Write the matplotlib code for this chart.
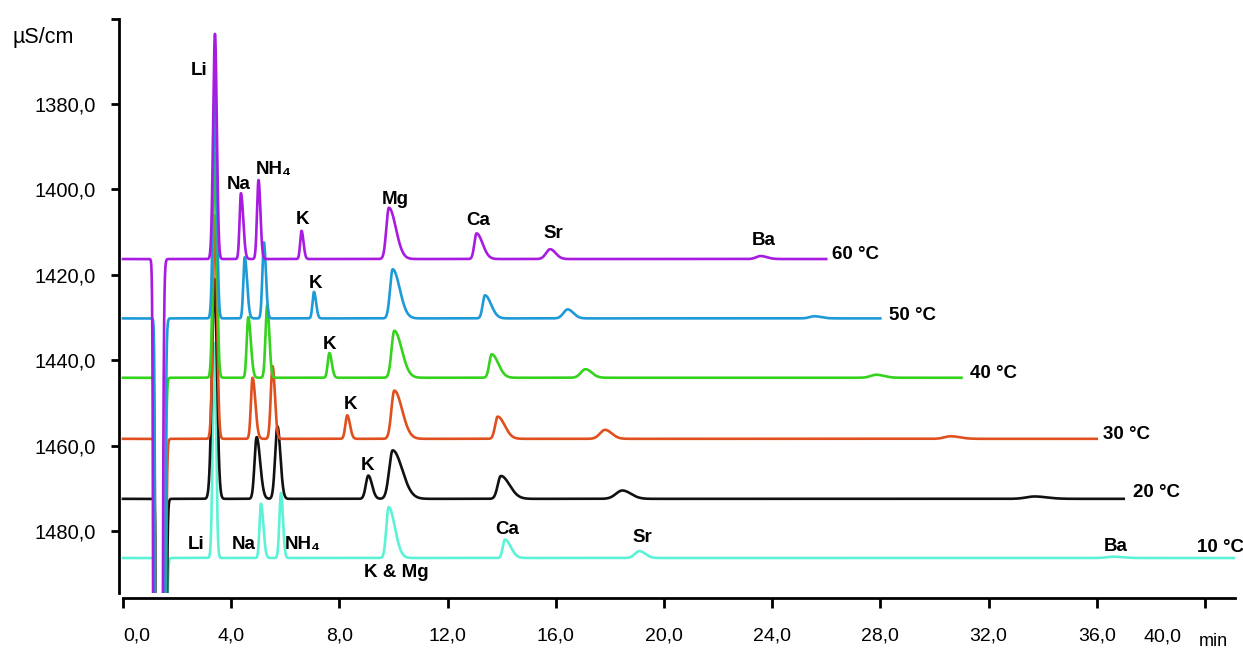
import numpy as np
import matplotlib
matplotlib.use("Agg")
import matplotlib.pyplot as plt

plt.rcParams['font.family'] = ['Liberation Sans', 'DejaVu Sans']

# ---------------- data ----------------
ions = ["Li", "Na", "NH4", "K", "Mg", "Ca", "Sr", "Ba"]
# relative peak widths (sigma / retention time), leading and tailing side
rel_sigma_left = [0.020, 0.0115, 0.011, 0.0076, 0.0097, 0.0062, 0.0095, 0.0068]
rel_sigma_right = [0.020, 0.0195, 0.014, 0.011, 0.026, 0.017, 0.0127, 0.010]

temps = ["60 °C", "50 °C", "40 °C", "30 °C", "20 °C", "10 °C"]
baseline = [1416.3, 1430.2, 1444.1, 1458.4, 1472.45, 1486.3]
run_end = [26.0, 28.0, 31.0, 36.0, 37.0, 41.1]
dip_time = [1.26, 1.34, 1.34, 1.36, 1.38, 1.38]
width_factor = [1.0, 1.0, 1.05, 1.1, 1.35, 0.9]

rt_60 = [3.40, 4.36, 5.01, 6.60, 9.83, 13.07, 15.79, 23.57]
top_60 = [1363.6, 1400.9, 1397.8, 1409.7, 1404.3, 1410.3, 1414.0, 1415.6]
rt_50 = [3.40, 4.50, 5.21, 7.06, 9.97, 13.38, 16.44, 25.56]
top_50 = [1377.0, 1415.9, 1412.4, 1424.0, 1418.7, 1424.8, 1428.1, 1429.7]
rt_40 = [3.40, 4.63, 5.33, 7.63, 10.03, 13.63, 17.10, 27.84]
top_40 = [1391.5, 1429.9, 1427.1, 1438.3, 1433.1, 1438.6, 1442.1, 1443.4]
rt_30 = [3.40, 4.79, 5.53, 8.29, 10.03, 13.85, 17.82, 30.60]
top_30 = [1406.0, 1444.1, 1441.4, 1452.9, 1447.1, 1453.2, 1456.3, 1457.8]
rt_20 = [3.38, 4.94, 5.71, 9.07, 9.97, 13.97, 18.46, 33.70]
top_20 = [1421.0, 1458.0, 1455.5, 1467.0, 1461.1, 1467.1, 1470.5, 1471.9]
rt_10 = [3.38, 5.10, 5.84, np.nan, 9.82, 14.12, 19.09, 36.60]
top_10 = [1436.0, 1473.6, 1471.1, np.nan, 1474.4, 1482.0, 1484.7, 1486.0]

retention = [rt_60, rt_50, rt_40, rt_30, rt_20, rt_10]
tops = [top_60, top_50, top_40, top_30, top_20, top_10]

x_ticks = [0, 4, 8, 12, 16, 20, 24, 28, 32, 36, 40]
x_ticklabels = ["0,0", "4,0", "8,0", "12,0", "16,0", "20,0", "24,0", "28,0", "32,0", "36,0", ""]
y_ticks = [1380, 1400, 1420, 1440, 1460, 1480]
y_ticklabels = ["1380,0", "1400,0", "1420,0", "1440,0", "1460,0", "1480,0"]

# peak annotations: text, time, value (baseline of text)
peak_labels = [
    ("Li", 2.81, 1373.2), ("Na", 4.28, 1399.8), ("NH₄", 5.57, 1396.3),
    ("K", 6.64, 1408.0), ("Mg", 10.05, 1403.3), ("Ca", 13.12, 1408.4),
    ("Sr", 15.90, 1411.3), ("Ba", 23.69, 1413.1),
    ("K", 7.10, 1423.2), ("K", 7.63, 1437.3), ("K", 8.42, 1451.4), ("K", 9.05, 1465.8),
    ("Li", 2.69, 1484.2), ("Na", 4.45, 1484.2), ("NH₄", 6.65, 1484.2),
    ("K & Mg", 10.11, 1490.7), ("Ca", 14.21, 1480.6), ("Sr", 19.20, 1482.6),
    ("Ba", 36.70, 1484.6),
]
temp_label_x = [26.2, 28.32, 31.31, 36.23, 37.33, 39.69]
temp_label_y = [1416.2, 1430.5, 1444.1, 1458.4, 1472.1, 1485.0]

colors = ["#A81BE0", "#1E9AD8", "#35D21E", "#E0501F", "#111111", "#5CF2D6"]

# ---------------- figure ----------------
W, H = 1243, 650
fig = plt.figure(figsize=(W / 100, H / 100), dpi=100)
ax = fig.add_axes([119 / W, 1 - 593 / H, (1235 - 119) / W, (593 - 19) / H])

x_left = (119 - 123) / 27.05
x_right = (1235 - 123) / 27.05
ax.set_xlim(x_left, x_right)
ax.set_ylim(1494.5, 1360.1)


def asym_gauss(t, mu, sl, sr):
    s = np.where(t < mu, sl, sr)
    return np.exp(-0.5 * ((t - mu) / s) ** 2)


order = [5, 4, 3, 2, 1, 0]
for z, i in enumerate(order):
    t = np.arange(0, run_end[i], 0.004)
    v = np.full_like(t, baseline[i])
    for k in range(len(ions)):
        mu = retention[i][k]
        if np.isnan(mu):
            continue
        h = baseline[i] - tops[i][k]
        sl = rel_sigma_left[k] * mu * width_factor[i]
        sr = rel_sigma_right[k] * mu * width_factor[i]
        v -= h * asym_gauss(t, mu, sl, sr)
    v += 3000 * asym_gauss(t, dip_time[i], 0.055, 0.08)
    ax.plot(t, v, color=colors[i], lw=1.9, zorder=2 + z, solid_joinstyle='round')

for txt, tx, ty in peak_labels:
    ax.text(tx, ty, txt, ha='center', va='baseline', fontsize=13.5,
            fontweight='bold', zorder=20)

for i, lab in enumerate(temps):
    ax.text(temp_label_x[i], temp_label_y[i], lab, ha='left', va='baseline',
            fontsize=13.5, fontweight='bold', clip_on=False, zorder=20)

# axes styling
for s in ['top', 'right']:
    ax.spines[s].set_visible(False)
ax.spines['left'].set_linewidth(2.0)
ax.spines['bottom'].set_linewidth(2.0)
ax.spines['bottom'].set_position(('outward', 3.6))
ax.spines['bottom'].set_bounds(0, x_right)

ax.set_xticks(x_ticks)
ax.set_xticklabels(x_ticklabels)
ax.set_yticks([1360.1] + y_ticks)
ax.set_yticklabels([""] + y_ticklabels)
ax.tick_params(axis='x', direction='out', length=7, width=2.0, pad=14, labelsize=14)
ax.tick_params(axis='y', direction='out', length=6, width=2.0, pad=11, labelsize=14.5)
for lbl in ax.get_xticklabels()[:1]:
    lbl.set_horizontalalignment('left')

# extra x texts (shifted last label and unit)
fig.text(1163 / W, 1 - 637 / H, "40,0", ha='center', va='center', fontsize=14)
fig.text(1213 / W, 1 - 641 / H, "min", ha='center', va='center', fontsize=13)
fig.text(13 / W, 1 - 38 / H, "µS/cm", ha='left', va='center', fontsize=15.5)

fig.savefig("out.png", dpi=100)
